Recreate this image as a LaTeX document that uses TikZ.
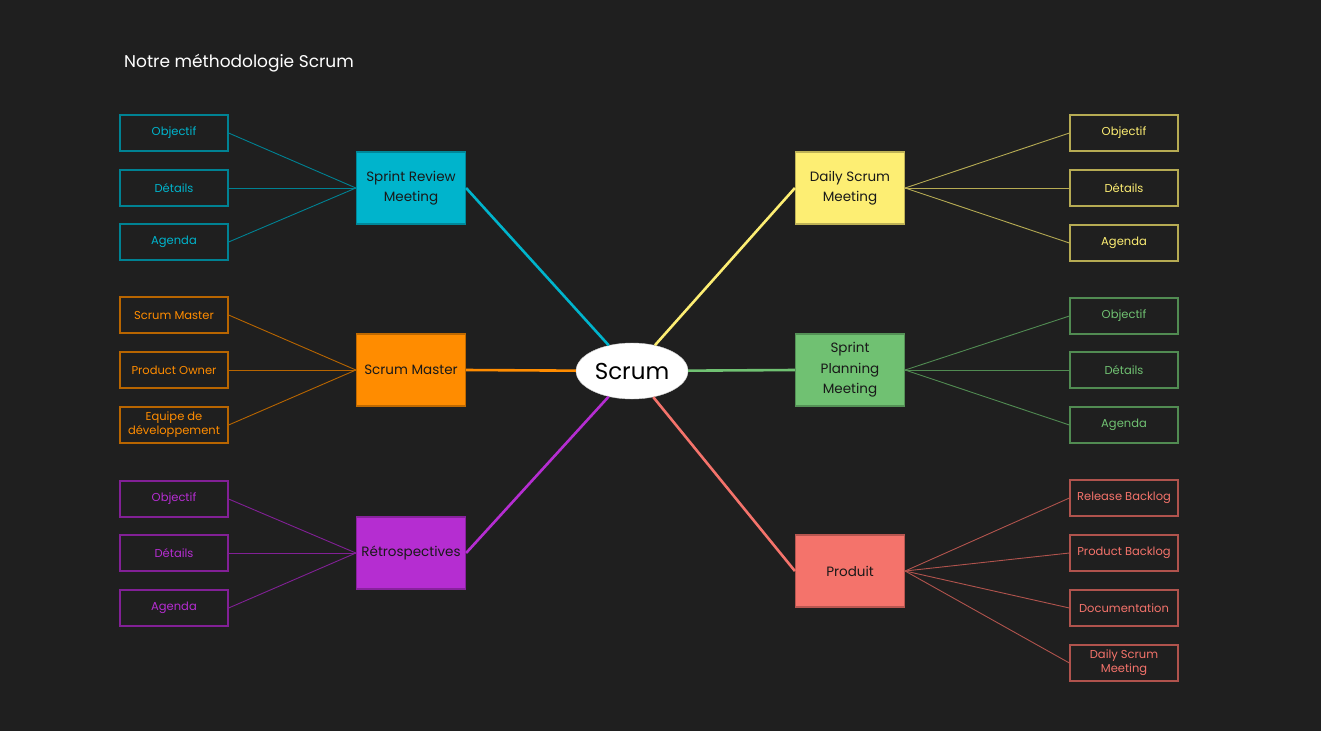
\documentclass[tikz,border=0pt]{standalone}
\usepackage{fontspec}
\setmainfont{Poppins}
\usetikzlibrary{shapes.geometric}
\definecolor{bgcol}{HTML}{1F1F1F}
\definecolor{revcol}{HTML}{00B4CC}
\definecolor{mascol}{HTML}{FF8C00}
\definecolor{retcol}{HTML}{B52DD1}
\definecolor{daycol}{HTML}{FDEE73}
\definecolor{placol}{HTML}{70C172}
\definecolor{procol}{HTML}{F4736B}
\begin{document}
\begin{tikzpicture}[x=1pt,y=-1pt,
	leaf/.style={draw=#1!72!black,text=#1,line width=1.2pt,minimum width=108pt,minimum height=36pt,inner sep=0pt,align=center,font=\fontsize{11.5}{14}\selectfont},
	topic/.style={fill=#1,draw=#1!75!black,text=black!90,line width=1.2pt,minimum width=109pt,minimum height=72pt,inner sep=0pt,align=center,font=\fontsize{13.5}{20.5}\selectfont},
	twig/.style={draw=#1!72!black,line width=0.9pt},
	branch/.style={draw=#1,line width=2.6pt}]
	\fill[bgcol](0,0) rectangle (1321,731);
	\useasboundingbox(0,0) rectangle (1321,731);
	\node[anchor=base west,inner sep=0pt,text=white,font=\fontsize{17}{20}\selectfont](title) at(124,67){Notre méthodologie Scrum};
	\node[ellipse,fill=white,draw=black!20,minimum width=112pt,minimum height=56pt,inner sep=0pt,font=\fontsize{23}{28}\selectfont](scrum) at(632,371){Scrum};
	\node[topic=revcol](review) at(411,188){Sprint Review\\Meeting};
	\node[topic=mascol](master) at(411,370){Scrum Master};
	\node[topic=retcol](retro) at(411,553){Rétrospectives};
	\node[topic=daycol](daily) at(850,188){Daily Scrum\\Meeting};
	\node[topic=placol](plan) at(850,370){Sprint\\Planning\\Meeting};
	\node[topic=procol](prod) at(850,571){Produit};
	\node[leaf=revcol](revobj) at(174,133){Objectif};
	\node[leaf=revcol](revdet) at(174,188){Détails};
	\node[leaf=revcol](revage) at(174,242){Agenda};
	\node[leaf=mascol](massm) at(174,315){Scrum Master};
	\node[leaf=mascol](maspo) at(174,370){Product Owner};
	\node[leaf=mascol](masteam) at(174,425){Equipe de\\développement};
	\node[leaf=retcol](retobj) at(174,499){Objectif};
	\node[leaf=retcol](retdet) at(174,553){Détails};
	\node[leaf=retcol](retage) at(174,608){Agenda};
	\node[leaf=daycol](dayobj) at(1124,133){Objectif};
	\node[leaf=daycol](daydet) at(1124,188){Détails};
	\node[leaf=daycol](dayage) at(1124,243){Agenda};
	\node[leaf=placol](plaobj) at(1124,316){Objectif};
	\node[leaf=placol](pladet) at(1124,370){Détails};
	\node[leaf=placol](plaage) at(1124,425){Agenda};
	\node[leaf=procol](prorel) at(1124,498){Release Backlog};
	\node[leaf=procol](proprod) at(1124,553){Product Backlog};
	\node[leaf=procol](prodoc) at(1124,608){Documentation};
	\node[leaf=procol](prodaily) at(1124,663){Daily Scrum\\Meeting};
	\draw[branch=revcol](review.east)--(scrum);
	\draw[branch=mascol](master.east)--(scrum);
	\draw[branch=retcol](retro.east)--(scrum);
	\draw[branch=daycol](daily.west)--(scrum);
	\draw[branch=placol](plan.west)--(scrum);
	\draw[branch=procol](prod.west)--(scrum);
	\draw[twig=revcol](revobj.east)--(review.west);
	\draw[twig=revcol](revdet.east)--(review.west);
	\draw[twig=revcol](revage.east)--(review.west);
	\draw[twig=mascol](massm.east)--(master.west);
	\draw[twig=mascol](maspo.east)--(master.west);
	\draw[twig=mascol](masteam.east)--(master.west);
	\draw[twig=retcol](retobj.east)--(retro.west);
	\draw[twig=retcol](retdet.east)--(retro.west);
	\draw[twig=retcol](retage.east)--(retro.west);
	\draw[twig=daycol](daily.east)--(dayobj.west);
	\draw[twig=daycol](daily.east)--(daydet.west);
	\draw[twig=daycol](daily.east)--(dayage.west);
	\draw[twig=placol](plan.east)--(plaobj.west);
	\draw[twig=placol](plan.east)--(pladet.west);
	\draw[twig=placol](plan.east)--(plaage.west);
	\draw[twig=procol](prod.east)--(prorel.west);
	\draw[twig=procol](prod.east)--(proprod.west);
	\draw[twig=procol](prod.east)--(prodoc.west);
	\draw[twig=procol](prod.east)--(prodaily.west);
\end{tikzpicture}
\end{document}
